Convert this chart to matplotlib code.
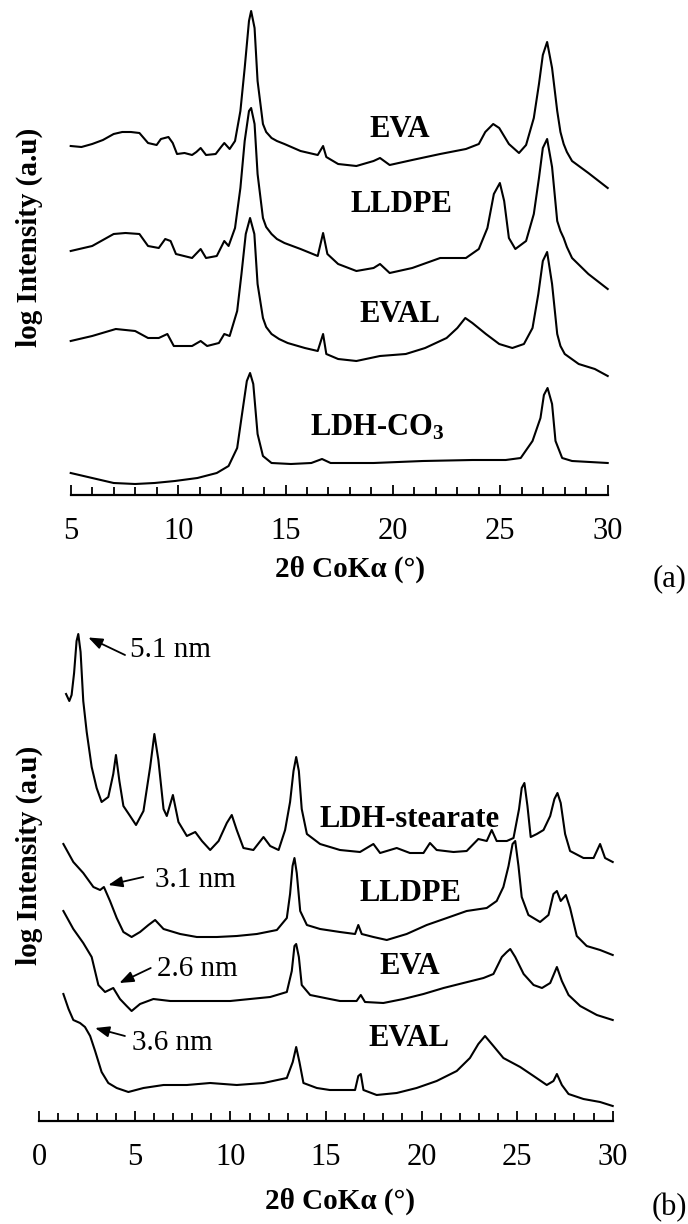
import matplotlib
matplotlib.use('Agg')
import matplotlib.pyplot as plt
from matplotlib.ticker import MultipleLocator

# ---------------- data (heights in arbitrary log-intensity units) -------------
# Panel (a)
a_eva_x = [5.0, 5.5, 6.0, 6.5, 7.0, 7.4, 7.8, 8.2, 8.6, 9.0, 9.2, 9.55, 9.75, 9.95, 10.3, 10.65, 10.85,
           11.05, 11.3, 11.75, 12.0, 12.15, 12.4, 12.65, 12.9, 13.1, 13.3, 13.4, 13.56, 13.7, 13.95, 14.1,
           14.35, 14.6, 14.95, 15.7, 16.5, 16.75, 16.9, 17.45, 18.3, 19.1, 19.4, 19.85, 20.9, 22.2, 23.4,
           24.0, 24.3, 24.67, 24.95, 25.4, 25.87, 26.2, 26.56, 26.8, 26.98, 27.18, 27.41, 27.65, 27.8,
           27.95, 28.1, 28.34, 29.1, 30.0]
a_eva_y = [349, 348, 351, 355, 361, 363, 363, 362, 352, 350, 356, 358, 352, 341, 342, 340, 343,
           347, 340, 341, 348, 352, 346, 354, 384, 427, 474, 484, 467, 414, 371, 363,
           357, 354, 351, 344, 340, 349, 338, 331, 329, 334, 337, 330, 335, 341, 346,
           351, 363, 371, 367, 351, 342, 350, 377, 411, 440, 453, 427, 384, 363,
           351, 343, 334, 322, 307]

a_lldpe_x = [5.0, 6.0, 6.5, 7.0, 7.55, 8.2, 8.6, 9.1, 9.4, 9.65, 9.9, 10.65, 11.05, 11.3, 11.8, 12.15,
             12.35, 12.65, 12.9, 13.1, 13.3, 13.4, 13.56, 13.7, 13.95, 14.1, 14.35, 14.6, 14.95, 15.7,
             16.5, 16.75, 16.95, 17.45, 18.3, 19.1, 19.4, 19.85, 20.9, 22.2, 23.4, 24.0, 24.4, 24.7,
             24.98, 25.18, 25.4, 25.7, 26.2, 26.56, 26.8, 26.98, 27.18, 27.41, 27.65, 27.8, 27.95,
             28.1, 28.34, 29.1, 30.0]
a_lldpe_y = [244, 249, 255, 261, 262, 261, 249, 247, 256, 254, 241, 237, 246, 237, 239, 254,
             249, 267, 307, 354, 384, 387, 371, 321, 277, 268, 261, 256, 252, 246,
             239, 262, 241, 231, 224, 227, 231, 222, 227, 237, 237, 246, 267, 301,
             312, 294, 257, 246, 254, 281, 317, 347, 356, 328, 274, 264, 257,
             248, 237, 221, 206]

a_eval_x = [5.0, 6.0, 7.1, 8.0, 8.6, 9.1, 9.5, 9.8, 10.65, 11.05, 11.35, 11.9, 12.15, 12.4, 12.75,
            12.95, 13.15, 13.35, 13.55, 13.7, 13.95, 14.1, 14.35, 14.7, 15.1, 15.9, 16.5, 16.75, 16.9,
            17.45, 18.3, 19.4, 20.6, 21.5, 22.5, 23.0, 23.37, 23.7, 24.33, 24.95, 25.56, 26.1, 26.5,
            26.77, 26.98, 27.18, 27.41, 27.65, 27.8, 28.0, 28.65, 29.4, 30.0]
a_eval_y = [154, 159, 166, 164, 157, 157, 161, 149, 149, 154, 149, 152, 161, 159, 184,
            221, 261, 277, 261, 211, 177, 168, 161, 156, 152, 147, 144, 161, 141,
            136, 134, 139, 141, 147, 157, 167, 177, 172, 161, 151, 147, 151, 167,
            201, 234, 243, 211, 161, 149, 141, 131, 126, 119]

a_ldh_x = [5.0, 6.0, 7.0, 8.0, 8.9, 9.85, 10.9, 11.8, 12.35, 12.75, 12.95, 13.2, 13.35, 13.5, 13.7,
           13.95, 14.35, 15.25, 16.2, 16.7, 17.1, 18.4, 19.1, 21.4, 23.7, 25.25, 25.95, 26.5, 26.87,
           27.03, 27.2, 27.41, 27.57, 27.88, 28.34, 30.0]
a_ldh_y = [22, 17, 12, 11, 12, 14, 17, 22, 29, 47, 77, 114, 122, 111, 61,
           39, 32, 31, 32, 36, 32, 32, 32, 34, 35, 35, 37, 54, 77,
           100, 107, 91, 54, 37, 34, 32]

# Panel (b)
b_st_x = [1.40, 1.57, 1.69, 1.82, 1.95, 2.04, 2.16, 2.30, 2.48, 2.74, 3.00, 3.26, 3.61, 3.87, 4.01,
          4.19, 4.40, 4.75, 5.06, 5.45, 5.80, 6.02, 6.23, 6.50, 6.67, 6.99, 7.28, 7.72, 8.16, 8.51,
          8.94, 9.38, 9.81, 10.07, 10.33, 10.68, 11.2, 11.73, 12.08, 12.52, 12.86, 13.12, 13.3, 13.44,
          13.58, 13.73, 14.0, 14.69, 15.73, 16.78, 17.48, 17.83, 18.7, 19.39, 20.1, 20.44, 20.79,
          21.67, 22.36, 22.97, 23.41, 23.67, 23.93, 24.46, 24.81, 25.1, 25.24, 25.38, 25.54, 25.71,
          26.03, 26.38, 26.73, 26.95, 27.11, 27.28, 27.51, 27.77, 28.47, 29.0, 29.34, 29.6, 30.0]
b_st_y = [427, 420, 426, 448, 480, 487, 469, 420, 389, 354, 333, 319, 324, 347, 366,
          340, 315, 305, 296, 310, 354, 387, 361, 312, 305, 326, 299, 285, 289, 280,
          271, 280, 298, 306, 291, 273, 271, 284, 275, 271, 291, 319, 350, 364,
          350, 312, 287, 277, 271, 269, 277, 268, 273, 268, 268, 278, 271,
          269, 270, 282, 280, 291, 280, 280, 283, 312, 333, 338, 315, 284,
          287, 291, 305, 322, 328, 318, 287, 270, 263, 263, 277, 263, 259]

b_lldpe_x = [1.26, 1.78, 2.30, 2.83, 3.18, 3.38, 3.70, 4.05, 4.40, 4.83, 5.27, 5.71, 6.06, 6.50, 7.37,
             8.24, 9.29, 10.33, 11.38, 12.43, 12.95, 13.12, 13.25, 13.35, 13.47, 13.65, 14.0, 14.69,
             15.73, 16.52, 16.69, 16.87, 17.48, 18.18, 19.22, 20.27, 21.32, 22.36, 23.41, 23.93, 24.28,
             24.55, 24.76, 24.9, 25.07, 25.24, 25.59, 26.2, 26.64, 26.9, 27.08, 27.28, 27.55, 27.77,
             28.12, 28.64, 29.34, 30.0]
b_lldpe_y = [277, 259, 248, 234, 231, 234, 220, 203, 189, 184, 189, 196, 201, 192, 187,
             184, 184, 185, 187, 191, 203, 227, 255, 263, 248, 210, 196, 192,
             189, 187, 196, 187, 184, 181, 187, 196, 203, 210, 213, 220, 234,
             255, 277, 280, 255, 224, 206, 199, 206, 227, 230, 220, 226, 213,
             185, 175, 171, 166]

b_eva_x = [1.26, 1.78, 2.30, 2.74, 3.09, 3.44, 3.87, 4.22, 4.57, 4.83, 5.27, 5.97, 6.85, 7.9, 8.94,
           9.99, 11.03, 12.08, 12.95, 13.21, 13.35, 13.44, 13.58, 13.73, 14.17, 15.2, 15.73, 16.6,
           16.82, 17.04, 18.0, 19.05, 20.1, 21.15, 22.19, 23.24, 23.76, 24.2, 24.46, 24.64, 24.9,
           25.34, 25.86, 26.3, 26.73, 27.08, 27.34, 27.69, 28.3, 29.17, 30.0]
b_eva_y = [210, 192, 178, 164, 136, 129, 133, 122, 115, 110, 117, 122, 120, 120, 120,
           120, 122, 124, 129, 150, 175, 177, 164, 136, 126, 122, 120, 120,
           126, 119, 118, 122, 127, 133, 138, 143, 147, 164, 169, 172, 164,
           147, 136, 133, 138, 154, 140, 126, 115, 106, 101]

b_eval_x = [1.26, 1.53, 1.78, 2.13, 2.39, 2.66, 2.92, 3.26, 3.61, 4.05, 4.66, 5.45, 6.5, 7.72, 8.94,
            10.33, 11.73, 12.95, 13.26, 13.44, 13.61, 13.82, 14.52, 15.2, 15.73, 16.52, 16.69, 16.82,
            16.96, 17.65, 18.7, 19.74, 20.79, 21.84, 22.53, 22.97, 23.32, 23.76, 24.28, 25.16, 25.86,
            26.55, 26.9, 27.08, 27.34, 27.69, 28.47, 29.34, 30.0]
b_eval_y = [127, 112, 101, 98, 94, 85, 70, 49, 38, 33, 29, 33, 36, 36, 38,
            36, 38, 43, 59, 74, 59, 38, 33, 31, 31, 31, 45, 47,
            31, 26, 28, 33, 40, 50, 63, 77, 85, 75, 63, 54, 45,
            36, 40, 47, 36, 27, 22, 19, 15]

a_labels = ['EVA', 'LLDPE', 'EVAL', r'LDH-CO$_3$']
b_labels = ['LDH-stearate', 'LLDPE', 'EVA', 'EVAL']
b_spacings = ['5.1 nm', '3.1 nm', '2.6 nm', '3.6 nm']
xlabel_text = '2θ CoKα (°)'
ylabel_text = 'log Intensity (a.u)'

# ---------------- figure ----------------
W, H = 688, 1224
plt.rcParams['font.family'] = ['Liberation Serif', 'DejaVu Serif']
plt.rcParams['mathtext.default'] = 'regular'
fig = plt.figure(figsize=(W / 100, H / 100), dpi=100)


def add_ax(x0, x1, ybot, ytop):
    return fig.add_axes([x0 / W, 1 - ybot / H, (x1 - x0) / W, (ybot - ytop) / H])


axA = add_ax(70.7, 607.7, 495, 0)
axB = add_ax(39.3, 612.7, 1121, 620)

LW = 1.5
for x, y in [(a_eva_x, a_eva_y), (a_lldpe_x, a_lldpe_y), (a_eval_x, a_eval_y), (a_ldh_x, a_ldh_y)]:
    axA.plot(x, y, color='black', lw=LW, clip_on=False, solid_joinstyle='round')
for x, y in [(b_st_x, b_st_y), (b_lldpe_x, b_lldpe_y), (b_eva_x, b_eva_y), (b_eval_x, b_eval_y)]:
    axB.plot(x, y, color='black', lw=LW, clip_on=False, solid_joinstyle='round')

axA.set_xlim(5, 30)
axA.set_ylim(0, 495)
axB.set_xlim(0, 30)
axB.set_ylim(0, 501)

for ax in (axA, axB):
    for s in ('left', 'right', 'top'):
        ax.spines[s].set_visible(False)
    ax.spines['bottom'].set_linewidth(1.6)
    ax.set_yticks([])
    ax.patch.set_alpha(0)
    ax.xaxis.set_major_locator(MultipleLocator(5))
    ax.xaxis.set_minor_locator(MultipleLocator(1))
    ax.tick_params(axis='x', which='major', direction='in', length=7, width=1.3,
                   labelsize=22, pad=16)
    ax.tick_params(axis='x', which='minor', direction='in', length=6, width=1.3)

# curve labels
lab_kw = dict(fontsize=22, fontweight='bold', ha='center', va='baseline')
for txt, (xx, yy) in zip(a_labels, [(20.33, 358), (20.38, 283), (20.33, 173), (19.26, 60)]):
    axA.text(xx, yy, txt, **lab_kw)
for txt, (xx, yy) in zip(b_labels, [(19.35, 294), (19.4, 220), (19.4, 147), (19.35, 75)]):
    axB.text(xx, yy, txt, **lab_kw)

# spacing annotations with arrows
ann = [((2.565, 483.5), (4.485, 466), (4.75, 471)),
       ((3.61, 236), (5.44, 244), (6.05, 241)),
       ((4.19, 138), (5.83, 153), (6.14, 152)),
       ((2.92, 93), (4.48, 85), (4.84, 78))]
for txt, (tip, tail, tpos) in zip(b_spacings, ann):
    axB.annotate('', xy=tip, xytext=tail,
                 arrowprops=dict(arrowstyle='-|>,head_length=0.85,head_width=0.33', color='black',
                                 lw=1.3, shrinkA=0, shrinkB=0, mutation_scale=10))
    axB.text(tpos[0], tpos[1], txt, fontsize=21, ha='left', va='center')

# axis labels (figure pixel positions)
def ftext(x, y, s, **kw):
    fig.text(x / W, 1 - y / H, s, **kw)

ftext(350, 569, xlabel_text, fontsize=21, fontweight='bold', ha='center', va='center')
ftext(340, 1201, xlabel_text, fontsize=21, fontweight='bold', ha='center', va='center')
ftext(29, 237, ylabel_text, fontsize=21, fontweight='bold', ha='center', va='center', rotation=90)
ftext(29, 855, ylabel_text, fontsize=21, fontweight='bold', ha='center', va='center', rotation=90)
ftext(687, 579, '(a)', fontsize=22, ha='right', va='center')
ftext(687, 1208, '(b)', fontsize=22, ha='right', va='center')

fig.savefig('out.png', dpi=100)
